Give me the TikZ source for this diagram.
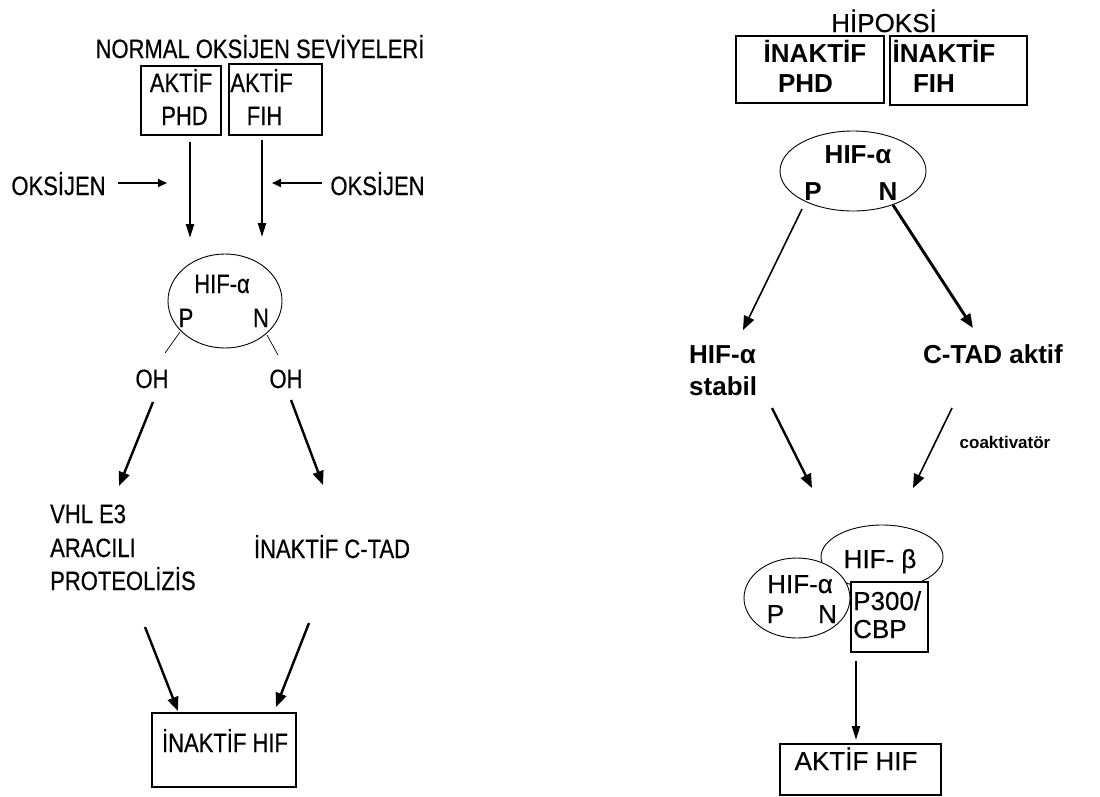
\documentclass[tikz,border=0pt]{standalone}
\usepackage{fontspec}
\setmainfont{Liberation Sans}
\newfontfamily\condf[FakeStretch=0.83,FakeBold=0.5]{Liberation Sans}
\newfontfamily\regf[FakeBold=0.4]{Liberation Sans}
\usetikzlibrary{arrows.meta}
\begin{document}
\begin{tikzpicture}[x=1pt,y=-1pt,
  lt/.style={inner sep=0pt,font=\condf\fontsize{26.5}{30}\selectfont},
  rt/.style={inner sep=0pt,font=\bfseries\fontsize{26}{30}\selectfont},
  rn/.style={inner sep=0pt,font=\regf\fontsize{26}{30}\selectfont},
  boxx/.style={draw,line width=1.3pt,fill=white},
  oval/.style={draw,line width=0.9pt,fill=white},
  arr/.style={-{Triangle[length=14pt,width=11pt]},line width=2.4pt},
  arrthin/.style={-{Triangle[length=14pt,width=11pt]},line width=1.6pt},
  varr/.style={-{Triangle[length=14pt,width=8pt]},line width=2.2pt},
  harr/.style={-{Triangle[length=9pt,width=8pt]},line width=1.8pt},
  tick/.style={line width=0.7pt}]
\useasboundingbox (0,0) rectangle (1100,796);

% ---------------- left panel ----------------
\node[lt,anchor=base] (title) at (260,58) {NORMAL OKSİJEN SEVİYELERİ};
\draw[boxx] (141,66) rectangle (221,135);
\draw[boxx] (229,64) rectangle (322,135);
\node[lt,anchor=base] (b1a) at (181,92) {AKTİF};
\node[lt,anchor=base] (b1b) at (184.5,125) {PHD};
\node[lt,anchor=base] (b2a) at (261.5,92) {AKTİF};
\node[lt,anchor=base] (b2b) at (264.5,125) {FIH};

\coordinate (v1s) at (190,142); \coordinate (v1e) at (190,238);
\coordinate (v2s) at (262,140); \coordinate (v2e) at (262,237);
\draw[varr] (v1s) -- (v1e);
\draw[varr] (v2s) -- (v2e);

\node[lt,anchor=base] (oxl) at (58.5,195) {OKSİJEN};
\node[lt,anchor=base] (oxr) at (377.5,195) {OKSİJEN};
\coordinate (h1s) at (118,183); \coordinate (h1e) at (167,183);
\coordinate (h2s) at (322,183); \coordinate (h2e) at (272,183);
\draw[harr] (h1s) -- (h1e);
\draw[harr] (h2s) -- (h2e);

\draw[oval] (225,301) ellipse [x radius=57, y radius=47];
\node[lt,anchor=base] (hifl) at (222,293) {HIF-α};
\node[lt,anchor=base] (pl) at (186,327) {P};
\node[lt,anchor=base] (nl) at (261,327) {N};
\coordinate (t1s) at (180,332); \coordinate (t1e) at (165,353);
\coordinate (t2s) at (267,335); \coordinate (t2e) at (278,355);
\draw[tick] (t1s) -- (t1e);
\draw[tick] (t2s) -- (t2e);
\node[lt,anchor=base] (oh1) at (152,388) {OH};
\node[lt,anchor=base] (oh2) at (286,388) {OH};

\coordinate (a1s) at (153,402); \coordinate (a1e) at (119,486);
\coordinate (a2s) at (291,400); \coordinate (a2e) at (323,485);
\draw[arr] (a1s) -- (a1e);
\draw[arr] (a2s) -- (a2e);

\node[lt,anchor=base west] (vhl1) at (50,523) {VHL E3};
\node[lt,anchor=base west] (vhl2) at (50,557) {ARACILI};
\node[lt,anchor=base west] (vhl3) at (50,590) {PROTEOLİZİS};
\node[lt,anchor=base] (ictad) at (332,558) {İNAKTİF C-TAD};

\coordinate (a3s) at (145,627); \coordinate (a3e) at (178,711);
\coordinate (a4s) at (309,623); \coordinate (a4e) at (276,707);
\draw[arr] (a3s) -- (a3e);
\draw[arr] (a4s) -- (a4e);

\draw[boxx] (152,713) rectangle (296,787);
\node[lt,anchor=base] (ihif) at (225,752) {İNAKTİF HIF};

% ---------------- right panel ----------------
\node[rn,anchor=base] (hip) at (884,32) {HİPOKSİ};
\draw[boxx] (736,36) rectangle (884,103);
\draw[boxx] (890,36) rectangle (1027,105);
\node[rt,anchor=base] (r1a) at (815,62) {İNAKTİF};
\node[rt,anchor=base] (r1b) at (805.5,92) {PHD};
\node[rt,anchor=base] (r2a) at (944,62) {İNAKTİF};
\node[rt,anchor=base] (r2b) at (934,92) {FIH};

\draw[oval] (853,171) ellipse [x radius=73, y radius=40];
\node[rt,anchor=base] (hifr) at (858,163) {HIF-α};
\node[rt,anchor=base] (pr) at (813,200) {P};
\node[rt,anchor=base] (nr) at (888,200) {N};

\coordinate (r1s) at (802,209); \coordinate (r1e) at (743,330);
\coordinate (r2s) at (893,205); \coordinate (r2e) at (973,328);
\draw[arrthin] (r1s) -- (r1e);
\draw[arr,line width=2.9pt] (r2s) -- (r2e);

\node[rt,anchor=base west] (st1) at (689,363) {HIF-α};
\node[rt,anchor=base west] (st2) at (689,395) {stabil};
\node[rt,anchor=base] (cta) at (993,363) {C-TAD aktif};

\coordinate (r3s) at (772,408); \coordinate (r3e) at (812,488);
\coordinate (r4s) at (952,408); \coordinate (r4e) at (913,488);
\draw[arr] (r3s) -- (r3e);
\draw[arrthin] (r4s) -- (r4e);
\node[inner sep=0pt,font=\bfseries\fontsize{17}{20}\selectfont,anchor=base] (coak) at (1005,448) {coaktivatör};

% complex
\draw[oval] (882,557) ellipse [x radius=61, y radius=32];
\draw[oval] (797,598) ellipse [x radius=53, y radius=40];
\draw[boxx] (851,582) rectangle (928,652);
\node[rn,anchor=base] (hb) at (880,568) {HIF- β};
\node[rn,anchor=base] (ha) at (800,593) {HIF-α};
\node[rn,anchor=base] (pc) at (775.5,623) {P};
\node[rn,anchor=base] (nc) at (827.5,623) {N};
\node[rn,anchor=base west] (p300) at (853,610) {P300/};
\node[rn,anchor=base west] (cbp) at (853,638) {CBP};

\coordinate (r5s) at (856,661); \coordinate (r5e) at (856,740);
\draw[varr] (r5s) -- (r5e);

\draw[boxx] (780,744) rectangle (941,795);
\node[rn,anchor=base] (ahif) at (856,770) {AKTİF HIF};
\end{tikzpicture}
\end{document}
